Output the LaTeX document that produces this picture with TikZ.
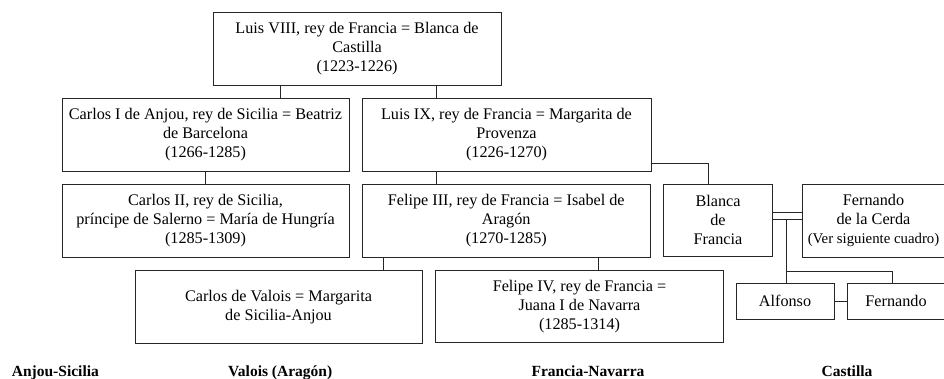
\documentclass[tikz,border=0pt]{standalone}
\usepackage{fontspec}
\setmainfont{Liberation Serif}
\begin{document}
\begin{tikzpicture}[x=1pt,y=-1pt,
  fam/.style={draw=black!85, line width=0.9pt, align=center, inner sep=0pt,
    font=\fontsize{16.2}{19}\selectfont},
  link/.style={draw=black!85, line width=0.9pt},
  house/.style={font=\fontsize{15.5}{17}\selectfont\bfseries, inner sep=0pt}]
\useasboundingbox (0,0) rectangle (944,379);
% boxes
\node[fam, minimum width=288pt, minimum height=72.3pt] (lviii) at (357,48.9)
  {Luis VIII, rey de Francia = Blanca de\\Castilla\\(1223-1226)};
\node[fam, minimum width=287pt, minimum height=73pt] (carlosI) at (205.5,134.5)
  {Carlos I de Anjou, rey de Sicilia = Beatriz\\de Barcelona\\(1266-1285)};
\node[fam, minimum width=289pt, minimum height=73pt] (luisIX) at (506.5,134.5)
  {Luis IX, rey de Francia = Margarita de\\Provenza\\(1226-1270)};
\node[fam, minimum width=287pt, minimum height=73pt] (carlosII) at (205.5,220.5)
  {Carlos II, rey de Sicilia,\\príncipe de Salerno = María de Hungría\\(1285-1309)};
\node[fam, minimum width=288.5pt, minimum height=73pt] (felipeIII) at (506.25,220.5)
  {Felipe III, rey de Francia = Isabel de\\Aragón\\(1270-1285)};
\node[fam, minimum width=109.4pt, minimum height=72.7pt] (blanca) at (718,220.4)
  {Blanca\\de\\Francia};
\node[fam, minimum width=143pt, minimum height=73pt] (cerda) at (873.5,220.5)
  {Fernando\\de la Cerda\\{\fontsize{14.8}{19}\selectfont(Ver siguiente cuadro)}};
\node[fam, minimum width=287pt, minimum height=73.3pt] (valois) at (278.5,306.7)
  {Carlos de Valois = Margarita\\de Sicilia-Anjou};
\node[fam, minimum width=287.6pt, minimum height=71.6pt] (felipeIV) at (579.5,306.5)
  {Felipe IV, rey de Francia =\\Juana I de Navarra\\(1285-1314)};
\node[fam, minimum width=98pt, minimum height=36pt] (alfonso) at (785,301)
  {Alfonso};
\node[fam, minimum width=98pt, minimum height=36pt] (fernando) at (896,301)
  {Fernando};
% house labels
\node[house, anchor=base west] (hAnjou) at (11.7,376) {Anjou-Sicilia};
\node[house, anchor=base west] (hValois) at (228,376) {Valois (Aragón)};
\node[house, anchor=base] (hFrancia) at (588,376) {Francia-Navarra};
\node[house, anchor=base] (hCastilla) at (847,376) {Castilla};
% helper coordinates
\coordinate (xa) at (280,0);
\coordinate (xb) at (436,0);
\coordinate (xc) at (383.5,0);
\coordinate (xd) at (598,0);
\coordinate (xe) at (708,163.3);
\coordinate (ya) at (0,163.3);
\coordinate (d1) at (0,212);
\coordinate (d2) at (0,219.5);
\coordinate (xf) at (786.5,271);
\coordinate (xg) at (892.3,271);
% connectors
\draw[link] (lviii.south -| xa) -- (carlosI.north -| xa);
\draw[link] (lviii.south -| xb) -- (luisIX.north -| xb);
\draw[link] (carlosI.south) -- (carlosII.north);
\draw[link] (luisIX.south -| xb) -- (felipeIII.north -| xb);
\draw[link] (luisIX.east |- ya) -- (xe) -- (blanca.north -| xe);
\draw[link] (felipeIII.south -| xc) -- (valois.north -| xc);
\draw[link] (felipeIII.south -| xd) -- (felipeIV.north -| xd);
\draw[link] (blanca.east |- d1) -- (cerda.west |- d1);
\draw[link] (blanca.east |- d2) -- (cerda.west |- d2);
\draw[link] (xf |- d2) -- (xf) -- (alfonso.north -| xf);
\draw[link] (xf) -- (xg) -- (fernando.north -| xg);
\draw[link] (alfonso.east) -- (fernando.west);
\end{tikzpicture}
\end{document}
